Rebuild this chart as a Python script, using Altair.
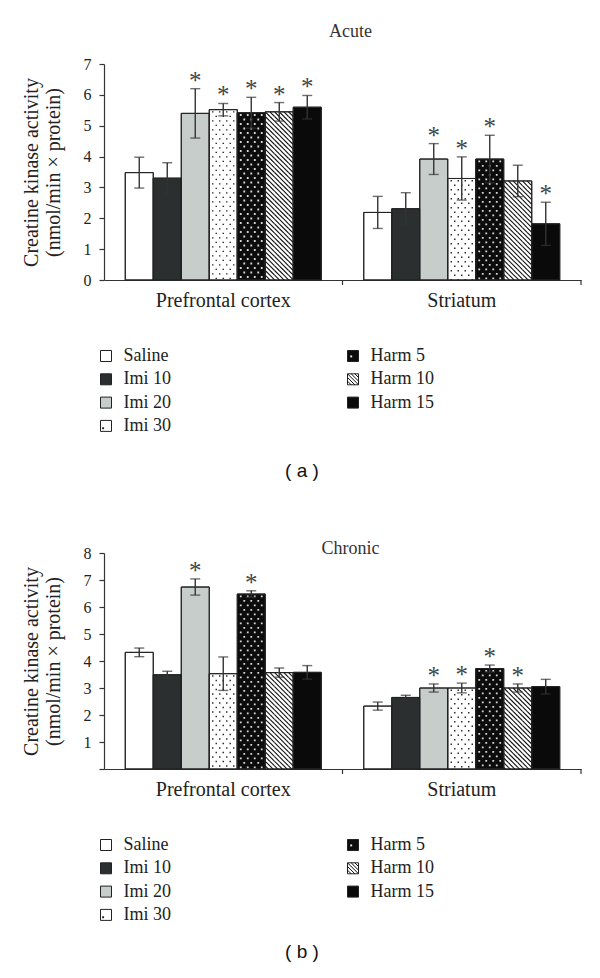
import altair as alt
import pandas as pd

# ---------------- data ----------------
regions = ["Prefrontal cortex", "Striatum"]
treatments = ["Saline", "Imi 10", "Imi 20", "Imi 30", "Harm 5", "Harm 10", "Harm 15"]
fills = ["#ffffff", "#2b2f30", "#c6cdca", "#ffffff", "#0c0c0c", "#ffffff", "#0a0a0a"]

acute_pfc = [3.48, 3.30, 5.40, 5.52, 5.42, 5.45, 5.60]
acute_pfc_err = [0.50, 0.50, 0.80, 0.20, 0.50, 0.30, 0.38]
acute_pfc_sig = [0, 0, 1, 1, 1, 1, 1]
acute_str = [2.19, 2.31, 3.92, 3.29, 3.92, 3.21, 1.82]
acute_str_err = [0.52, 0.52, 0.50, 0.70, 0.77, 0.51, 0.70]
acute_str_sig = [0, 0, 1, 1, 1, 0, 1]

chronic_pfc = [4.32, 3.49, 6.74, 3.53, 6.48, 3.57, 3.58]
chronic_pfc_err = [0.16, 0.13, 0.30, 0.62, 0.12, 0.17, 0.25]
chronic_pfc_sig = [0, 0, 1, 0, 1, 0, 0]
chronic_str = [2.33, 2.65, 3.00, 3.00, 3.72, 3.00, 3.05]
chronic_str_err = [0.15, 0.08, 0.15, 0.18, 0.13, 0.15, 0.27]
chronic_str_sig = [0, 0, 1, 1, 1, 1, 0]

legend_cols = [0, 0, 0, 0, 1, 1, 1]
legend_rows = [0, 1, 2, 3, 0, 1, 2]

y_title = ["Creatine kinase activity", "(nmol/min \u00d7 protein)"]

# ---------------- style / layout ----------------
SERIF = "Liberation Serif"
W, H = 477, 216
BAR = 28.0
NB = len(treatments)
PAD_OUTER = (W / 2 / BAR - NB) / 2
HALF = BAR / 2.0
SYM_SIZE = BAR * BAR


def dot_path(d, rows_px=(-2.25, 2.25)):
    cols_a = [-10.5, -3.5, 3.5, 10.5]
    cols_b = [-7.0, 0.0, 7.0]
    parts = []
    for cy, cols in zip(rows_px, (cols_a, cols_b)):
        for cx in cols:
            x0 = (cx - d / 2) / HALF
            y0 = (cy - d / 2) / HALF
            s = d / HALF
            parts.append(f"M{x0:.4f},{y0:.4f}h{s:.4f}v{s:.4f}h{-s:.4f}z")
    return "".join(parts)


def hatch_path(n=6):
    c = 2.0 / n
    parts = []
    for i in range(n):
        x0 = -1 + i * c
        parts.append(f"M{x0:.4f},{-c/2:.4f}L{x0 + c:.4f},{c/2:.4f}")
    return "".join(parts)


DOTS_BLACK = dot_path(1.4)
DOTS_WHITE = dot_path(1.8)
HATCH = hatch_path(6)
HATCH_CELL = BAR / 6


def make_df(pfc, pfc_e, pfc_s, st, st_e, st_s):
    rows = []
    for reg, vals, errs, sigs in [(regions[0], pfc, pfc_e, pfc_s), (regions[1], st, st_e, st_s)]:
        for t, v, e, s in zip(treatments, vals, errs, sigs):
            rows.append({"region": reg, "treatment": t, "value": v, "err": e, "sig": s})
    return pd.DataFrame(rows)


fill_scale = alt.Scale(domain=treatments, range=fills)


def panel(df, title, ymax, title_offset, hide_zero):
    ppu = H / ymax
    xaxis = alt.Axis(title=None, ticks=False, labelAngle=0, labelFont=SERIF, labelFontSize=20,
                     labelColor="#222", labelPadding=10, domainColor="#333", domainWidth=1.2)
    xscale = alt.Scale(paddingInner=0, paddingOuter=0)

    def X(**kw):
        return alt.X("region:N", sort=regions, scale=xscale, axis=xaxis, **kw)

    xo = alt.XOffset("treatment:N", sort=treatments,
                     scale=alt.Scale(paddingInner=0, paddingOuter=PAD_OUTER))
    ykw = dict(values=list(range(ymax + 1)), tickSize=5, tickColor="#333", tickWidth=1.2,
               domainColor="#333", domainWidth=1.2, labelFont=SERIF, labelFontSize=16,
               labelColor="#222", labelPadding=8, title=y_title, titleFont=SERIF,
               titleFontSize=20, titleFontWeight="normal", titleColor="#222",
               titleLineHeight=22, titlePadding=20, grid=False)
    if hide_zero:
        ykw["labelExpr"] = "datum.value == 0 ? '' : datum.label"
    yaxis = alt.Axis(**ykw)
    yscale = alt.Scale(domain=[0, ymax], nice=False, zero=True)

    def Y(field):
        return alt.Y(field, scale=yscale, axis=yaxis)

    base = alt.Chart(df).encode(x=X(), xOffset=xo)

    bars = base.mark_bar(stroke="#222", strokeWidth=1).encode(
        y=Y("value:Q"),
        fill=alt.Fill("treatment:N", scale=fill_scale, legend=None),
    )

    def dots(treat, path, color):
        return (base.transform_filter(alt.datum.treatment == treat)
                .transform_calculate(rows=f"sequence(datum.value - {4.5 / ppu}, {-4.5 / ppu}, {-9.0 / ppu})")
                .transform_flatten(["rows"])
                .mark_point(shape=path, size=SYM_SIZE, filled=True, fill=color,
                            strokeWidth=0, opacity=1, clip=True)
                .encode(y=Y("rows:Q")))

    dots30 = dots("Imi 30", DOTS_BLACK, "#222")
    dots5 = dots("Harm 5", DOTS_WHITE, "#d8d8d8")

    hatch = (base.transform_filter(alt.datum.treatment == "Harm 10")
             .transform_calculate(rows=f"sequence(datum.value - {HATCH_CELL / 2 / ppu}, "
                                       f"{-HATCH_CELL / 2 / ppu}, {-HATCH_CELL / ppu})")
             .transform_flatten(["rows"])
             .mark_point(shape=HATCH, size=SYM_SIZE, filled=False, stroke="#111",
                         strokeWidth=1.1, opacity=1, clip=True)
             .encode(y=Y("rows:Q")))

    outline = base.mark_bar(stroke="#222", strokeWidth=1, fillOpacity=0).encode(y=Y("value:Q"))

    eb = base.transform_calculate(lower="datum.value - datum.err", upper="datum.value + datum.err")
    err_rule = eb.mark_rule(color="#333", strokeWidth=1.4).encode(y=Y("lower:Q"), y2="upper:Q")
    caps = (eb.transform_fold(["lower", "upper"], as_=["k", "v"])
            .mark_tick(color="#333", thickness=1.4, size=10)
            .encode(y=Y("v:Q")))
    stars = (eb.transform_filter(alt.datum.sig == 1)
             .mark_text(text="*", font=SERIF, fontSize=25, color="#444", baseline="alphabetic", dy=0)
             .encode(y=Y("upper:Q")))

    xticks = alt.Chart(pd.DataFrame({"region": regions})).mark_rule(
        color="#333", strokeWidth=1.2).encode(
        x=X(bandPosition=1), y=alt.value(H), y2=alt.value(H + 5))

    return alt.layer(bars, dots30, dots5, hatch, outline, err_rule, caps, stars, xticks).properties(
        width=W, height=H,
        title=alt.TitleParams(title, font=SERIF, fontSize=18, fontWeight="normal", color="#333",
                              anchor="middle", dx=8, offset=title_offset),
    )


def legend_view(caption, height, cap_y):
    ldf = pd.DataFrame({"treatment": treatments, "col": legend_cols, "row": legend_rows})
    xs = alt.X("col:Q", scale=alt.Scale(domain=[0, 1], range=[2, 249]), axis=None)
    ys = alt.Y("row:Q", scale=alt.Scale(domain=[0, 1], range=[76, 99.3]), axis=None)
    base = alt.Chart(ldf).encode(x=xs, y=ys)
    sq = base.mark_square(size=121, stroke="#222", strokeWidth=1, opacity=1).encode(
        fill=alt.Fill("treatment:N", scale=fill_scale, legend=None))
    d30 = base.transform_filter(alt.datum.treatment == "Imi 30").mark_point(
        shape="M-0.7,0.25h0.35v0.35h-0.35z", size=121, filled=True, fill="#222", strokeWidth=0, opacity=1)
    d5 = base.transform_filter(alt.datum.treatment == "Harm 5").mark_point(
        shape="M-0.5,-0.1h0.35v0.35h-0.35z", size=121, filled=True, fill="#eee", strokeWidth=0, opacity=1)
    h10 = base.transform_filter(alt.datum.treatment == "Harm 10").mark_point(
        shape="M-1,-1L1,1M-1,-0.33L0.33,1M-0.33,-1L1,0.33M-1,0.33L-0.33,1M0.33,-1L1,-0.33",
        size=121, filled=False, stroke="#111", strokeWidth=1, opacity=1)
    labels = base.mark_text(align="left", baseline="middle", dx=17.5, font=SERIF, fontSize=18,
                            color="#222").encode(text="treatment:N")
    cap = alt.Chart(pd.DataFrame({"t": [caption]})).mark_text(
        font="Liberation Sans", fontSize=19, color="#111", baseline="middle").encode(
        text="t:N", x=alt.value(198), y=alt.value(cap_y))
    return alt.layer(sq, d30, d5, h10, labels, cap).properties(width=W, height=height)


df_a = make_df(acute_pfc, acute_pfc_err, acute_pfc_sig, acute_str, acute_str_err, acute_str_sig)
df_b = make_df(chronic_pfc, chronic_pfc_err, chronic_pfc_sig, chronic_str, chronic_str_err, chronic_str_sig)

pa = panel(df_a, "Acute", 7, 15, False)
la = legend_view("( a )", 273, 191)
pb = panel(df_b, "Chronic", 8, -13, True)
lb = legend_view("( b )", 201, 183)

chart = (alt.vconcat(pa, la, pb, lb, spacing=0, bounds="flush")
         .properties(padding={"left": 13, "top": 15, "right": 5, "bottom": 5})
         .configure(font=SERIF)
         .configure_view(stroke=None))

chart.save("out.html", embed_options={"renderer": "svg", "actions": False})
